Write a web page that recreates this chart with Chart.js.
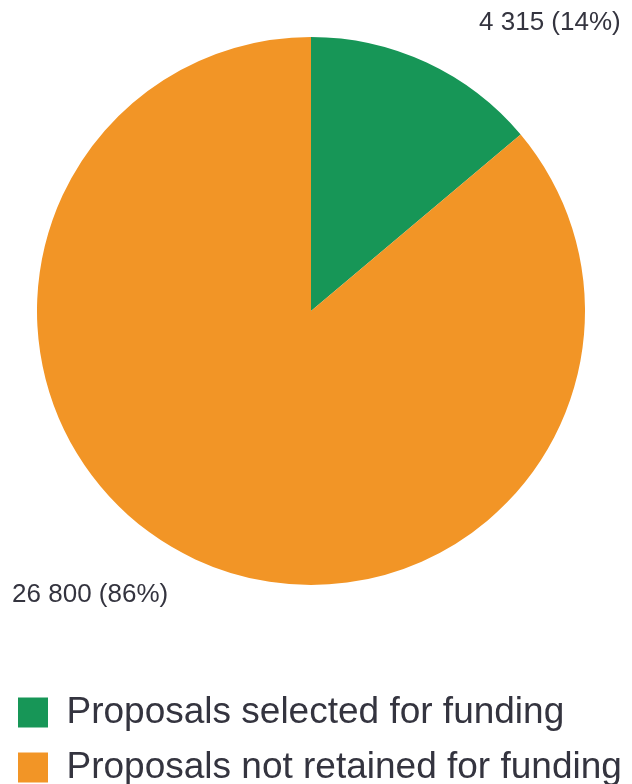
<!DOCTYPE html>
<html lang="en">
<head>
    <meta charset="UTF-8">
    <title>Proposals</title>
    <style>
        html, body {
            margin: 0;
            padding: 0;
            background: #ffffff;
            overflow: hidden;
            width: 632px;
            height: 784px;
        }
        /* canvas is taller than the window and shifted up so the pie and legend land where the original has them */
        #wrap {
            position: absolute;
            left: 0;
            top: -54px;
            width: 632px;
            height: 850px;
        }
    </style>
    <script src="https://cdn.jsdelivr.net/npm/chart.js"></script>
</head>
<body>
    <div id="wrap"><canvas id="pieChart"></canvas></div>

    <script>
        const categories = ['Proposals selected for funding', 'Proposals not retained for funding'];
        const proposalCounts = [4315, 26800];
        const sliceColors = ['#179657', '#f29526'];

        const total = proposalCounts.reduce((a, b) => a + b, 0);
        const fmt = n => String(n).replace(/\B(?=(\d{3})+(?!\d))/g, ' ');

        // value labels outside the slices
        const sliceLabels = {
            id: 'sliceLabels',
            afterDatasetsDraw(chart) {
                const ctx = chart.ctx;
                const meta = chart.getDatasetMeta(0);
                ctx.save();
                ctx.font = '26px "Liberation Sans", Arial, sans-serif';
                ctx.fillStyle = '#34343f';
                ctx.textAlign = 'center';
                ctx.textBaseline = 'middle';
                meta.data.forEach((arc, i) => {
                    const p = arc.getProps(['x', 'y', 'startAngle', 'endAngle', 'outerRadius'], true);
                    const a = (p.startAngle + p.endAngle) / 2 + 13.8 * Math.PI / 180;
                    const r = p.outerRadius * 1.34;
                    const v = proposalCounts[i];
                    const txt = fmt(v) + ' (' + Math.round(v / total * 100) + '%)';
                    ctx.fillText(txt, p.x + 9 + Math.cos(a) * r, p.y - 2 + Math.sin(a) * r);
                });
                ctx.restore();
            }
        };

        new Chart(document.getElementById('pieChart').getContext('2d'), {
            type: 'pie',
            data: {
                labels: categories,
                datasets: [{
                    data: proposalCounts,
                    backgroundColor: sliceColors,
                    borderWidth: 0,
                    radius: 274
                }]
            },
            options: {
                responsive: true,
                maintainAspectRatio: false,
                animation: false,
                events: [],
                layout: { padding: { left: 0, right: 10, top: 0, bottom: 0 } },
                plugins: {
                    tooltip: { enabled: false },
                    legend: {
                        position: 'bottom',
                        align: 'start',
                        labels: {
                            boxWidth: 30,
                            boxHeight: 30,
                            padding: 18,
                            color: '#34343f',
                            font: { family: '"Liberation Sans", Arial, sans-serif', size: 37 }
                        }
                    }
                }
            },
            plugins: [sliceLabels]
        });
    </script>
</body>
</html>
